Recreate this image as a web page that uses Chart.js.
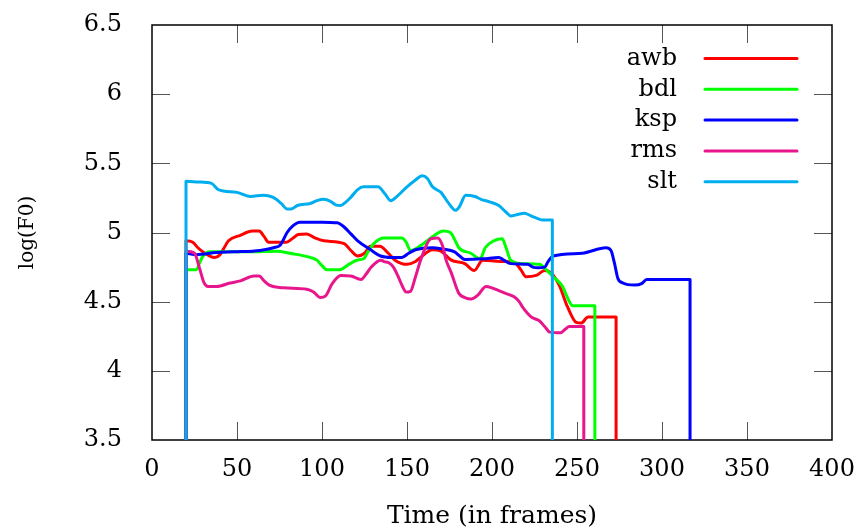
<!DOCTYPE html>
<html>
<head>
<meta charset="utf-8">
<script src="https://cdn.jsdelivr.net/npm/chart.js@4.4.1/dist/chart.umd.min.js"></script>
<style>
  html, body { margin: 0; padding: 0; background: #fff; }
  #wrap { width: 859px; height: 529px; }
</style>
</head>
<body>
<div id="wrap"><canvas id="c" width="859" height="529"></canvas></div>
<script>
// ---------- data ----------
const seriesNames = ['awb', 'bdl', 'ksp', 'rms', 'slt'];
const seriesColors = ['#ff0000', '#00ff00', '#0000ff', '#e8168c', '#00aeef'];

const awbFrames = [20, 24, 27, 30, 34, 37, 40, 42, 45, 52, 59, 63, 66, 68.5, 79, 83, 86, 91, 96, 101, 113, 117, 121, 125, 128.5, 134, 139, 143, 150, 155, 158, 165, 170, 176, 184, 189.5, 194.5, 205, 213, 217, 220, 226, 231, 234.5, 239.5, 244.5, 249.5, 252.5, 256.5, 273];
const awbValues = [4.94, 4.93, 4.89, 4.86, 4.83, 4.82, 4.84, 4.88, 4.94, 4.98, 5.01, 5.01, 4.97, 4.93, 4.93, 4.96, 4.985, 4.99, 4.96, 4.94, 4.92, 4.87, 4.83, 4.85, 4.90, 4.90, 4.85, 4.80, 4.77, 4.79, 4.82, 4.875, 4.865, 4.80, 4.775, 4.725, 4.80, 4.79, 4.785, 4.73, 4.68, 4.69, 4.725, 4.71, 4.62, 4.46, 4.35, 4.345, 4.39, 4.39];

const bdlFrames = [20, 26, 28, 30, 34, 58, 73.5, 81, 93, 97, 100, 103, 110, 116.5, 120.5, 124.5, 127, 130.5, 136.5, 147, 149.5, 152, 158, 165, 171.5, 175.5, 178, 180.5, 187.5, 193, 196, 201, 206, 208, 211, 217, 228, 232, 236, 241.5, 244, 247.5, 260.5];
const bdlValues = [4.73, 4.73, 4.78, 4.83, 4.86, 4.86, 4.865, 4.85, 4.82, 4.80, 4.76, 4.73, 4.73, 4.775, 4.80, 4.81, 4.86, 4.92, 4.96, 4.96, 4.93, 4.87, 4.905, 4.97, 5.01, 5.00, 4.95, 4.89, 4.85, 4.81, 4.89, 4.94, 4.955, 4.90, 4.80, 4.775, 4.77, 4.73, 4.68, 4.61, 4.54, 4.47, 4.47];

const kspFrames = [20, 26, 38, 48, 63.5, 71.5, 75.5, 79.5, 83, 87, 100, 109, 113, 117, 121, 128, 134.5, 141, 147, 151, 155, 165, 171, 178, 181, 184, 195, 204, 207, 211, 221, 224, 227, 231, 233, 236, 253, 267, 270, 272, 274, 277, 284, 288, 291, 316.5];
const kspValues = [4.85, 4.84, 4.855, 4.86, 4.87, 4.89, 4.91, 5.00, 5.05, 5.075, 5.075, 5.07, 5.04, 4.99, 4.94, 4.88, 4.83, 4.82, 4.82, 4.85, 4.875, 4.89, 4.88, 4.86, 4.83, 4.805, 4.81, 4.82, 4.80, 4.775, 4.77, 4.75, 4.745, 4.75, 4.79, 4.83, 4.85, 4.89, 4.87, 4.78, 4.67, 4.635, 4.62, 4.63, 4.66, 4.66];

const rmsFrames = [20, 25, 28, 30.5, 33, 38, 46, 52, 60, 63, 66, 69, 77.5, 91, 95, 99, 102, 106, 111, 117, 123, 126, 129, 134.5, 136.5, 139.5, 142, 144.5, 147, 149.5, 152, 155, 158, 164, 168, 171, 173, 176, 180.5, 184, 188, 191.5, 196.5, 200, 204, 208, 213, 216, 218, 223, 228, 231, 234, 240.5, 243, 245.5, 254];
const rmsValues = [4.865, 4.85, 4.74, 4.64, 4.61, 4.61, 4.635, 4.65, 4.685, 4.685, 4.65, 4.62, 4.60, 4.59, 4.57, 4.53, 4.54, 4.63, 4.69, 4.685, 4.66, 4.70, 4.75, 4.80, 4.79, 4.78, 4.75, 4.69, 4.62, 4.57, 4.575, 4.68, 4.80, 4.955, 4.96, 4.90, 4.80, 4.71, 4.56, 4.53, 4.52, 4.545, 4.61, 4.60, 4.58, 4.56, 4.535, 4.50, 4.46, 4.39, 4.36, 4.32, 4.28, 4.275, 4.30, 4.32, 4.32];

const sltFrames = [20, 27, 35, 39, 50, 58, 65.5, 71, 76, 79.5, 82, 85.5, 93, 97, 101, 105, 108, 111, 114, 117, 121, 124.5, 133, 137, 140.5, 144, 150, 155, 159, 162, 165, 170, 174, 178.5, 181, 184.5, 190, 193.5, 199, 204, 208, 211, 215, 219, 223, 227, 230, 235.5];
const sltValues = [5.37, 5.365, 5.355, 5.31, 5.29, 5.26, 5.27, 5.255, 5.21, 5.17, 5.17, 5.195, 5.21, 5.23, 5.24, 5.225, 5.20, 5.195, 5.22, 5.255, 5.31, 5.33, 5.33, 5.28, 5.23, 5.26, 5.33, 5.38, 5.41, 5.39, 5.33, 5.29, 5.22, 5.16, 5.19, 5.27, 5.26, 5.24, 5.22, 5.195, 5.15, 5.12, 5.13, 5.14, 5.12, 5.10, 5.09, 5.09];

const xTicks = [0, 50, 100, 150, 200, 250, 300, 350, 400];
const yTicks = [3.5, 4, 4.5, 5, 5.5, 6, 6.5];
const xTitle = 'Time (in frames)';
const yTitle = 'log(F0)';

// ---------- build datasets ----------
const X_MIN = xTicks[0], X_MAX = xTicks[xTicks.length - 1];
const Y_MIN = yTicks[0], Y_MAX = yTicks[yTicks.length - 1];
const allFrames = [awbFrames, bdlFrames, kspFrames, rmsFrames, sltFrames];
const allValues = [awbValues, bdlValues, kspValues, rmsValues, sltValues];

function buildPoints(frames, values) {
  // each utterance's contour starts and ends with a drop to the axis floor
  const pts = [{ x: frames[0], y: Y_MIN }];
  frames.forEach((f, i) => pts.push({ x: f, y: values[i] }));
  pts.push({ x: frames[frames.length - 1], y: Y_MIN });
  return pts;
}

const datasets = seriesNames.map((name, i) => ({
  label: name,
  data: buildPoints(allFrames[i], allValues[i]),
  borderColor: seriesColors[i],
  backgroundColor: seriesColors[i],
  borderWidth: 3,
  pointRadius: 0,
  fill: false,
  cubicInterpolationMode: 'monotone',
  borderJoinStyle: 'round',
  borderCapStyle: 'round',
  order: seriesNames.length - i   // later series painted on top
}));

const SERIF = "'DejaVu Serif', serif";

function zeroPad(scale) {
  scale.paddingLeft = 0; scale.paddingRight = 0;
  scale.paddingTop = 0; scale.paddingBottom = 0;
}

// ---------- frame, inward ticks and key ----------
const framePlugin = {
  id: 'frame',
  beforeDatasetsDraw(chart) {
    const { ctx, chartArea: a, scales: { x, y } } = chart;
    ctx.save();
    ctx.strokeStyle = '#555';
    ctx.lineWidth = 1;
    const L = 18;
    ctx.beginPath();
    x.ticks.forEach(t => {
      const px = Math.round(x.getPixelForValue(t.value)) + 0.5;
      if (px <= a.left + 1 || px >= a.right - 1) return;
      ctx.moveTo(px, a.bottom); ctx.lineTo(px, a.bottom - L);
      ctx.moveTo(px, a.top); ctx.lineTo(px, a.top + L);
    });
    y.ticks.forEach(t => {
      const py = Math.round(y.getPixelForValue(t.value)) + 0.5;
      if (py <= a.top + 1 || py >= a.bottom - 1) return;
      ctx.moveTo(a.left, py); ctx.lineTo(a.left + L, py);
      ctx.moveTo(a.right, py); ctx.lineTo(a.right - L, py);
    });
    ctx.stroke();
    ctx.strokeStyle = '#000';
    ctx.lineWidth = 1.5;
    ctx.strokeRect(a.left, a.top, a.right - a.left, a.bottom - a.top);
    ctx.restore();
  },
  afterDatasetsDraw(chart) {
    const { ctx, chartArea: a } = chart;
    ctx.save();
    ctx.font = "24px " + SERIF;
    ctx.textAlign = 'right';
    ctx.textBaseline = 'middle';
    const textRight = a.right - 155;
    const lineL = a.right - 127, lineR = a.right - 35;
    chart.data.datasets.forEach((ds, i) => {
      const yy = a.top + 33.5 + i * 30.8;
      ctx.fillStyle = '#000';
      ctx.fillText(ds.label, textRight, yy);
      ctx.strokeStyle = ds.borderColor;
      ctx.lineWidth = 3;
      ctx.lineCap = 'round';
      ctx.beginPath();
      ctx.moveTo(lineL, yy); ctx.lineTo(lineR, yy);
      ctx.stroke();
    });
    ctx.restore();
  }
};

new Chart(document.getElementById('c'), {
  type: 'line',
  data: { datasets },
  options: {
    responsive: false,
    devicePixelRatio: 1,
    animation: false,
    layout: { padding: { left: 0, right: 27, top: 25, bottom: 0 } },
    plugins: { legend: { display: false }, tooltip: { enabled: false } },
    scales: {
      x: {
        type: 'linear',
        min: X_MIN, max: X_MAX,
        afterBuildTicks(scale) { scale.ticks = xTicks.map(v => ({ value: v })); },
        afterFit(scale) { scale.height = 89; zeroPad(scale); },
        grid: { display: false, drawTicks: false },
        border: { display: false },
        ticks: { color: '#000', padding: 15, maxRotation: 0, font: { family: SERIF, size: 24 }, callback: v => String(v) },
        title: { display: true, text: xTitle, color: '#000', font: { family: SERIF, size: 25 }, padding: { top: 0, bottom: -2 } }
      },
      y: {
        type: 'linear',
        min: Y_MIN, max: Y_MAX,
        afterBuildTicks(scale) { scale.ticks = yTicks.map(v => ({ value: v })); },
        afterFit(scale) { scale.width = 152; zeroPad(scale); },
        grid: { display: false, drawTicks: false },
        border: { display: false },
        ticks: { color: '#000', padding: 30, font: { family: SERIF, size: 24 }, callback: v => String(v) },
        title: { display: true, text: yTitle, color: '#000', font: { family: SERIF, size: 20 }, padding: { top: 16, bottom: 0 } }
      }
    }
  },
  plugins: [framePlugin]
});
</script>
</body>
</html>
